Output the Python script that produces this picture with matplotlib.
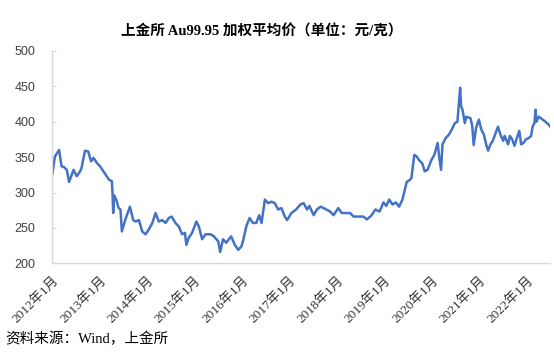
import numpy as np
import pandas as pd
import matplotlib
matplotlib.use("Agg")
import matplotlib.pyplot as plt
import matplotlib.transforms as mtransforms

# 上金所 Au99.95 加权平均价，读图估计（元/克）
dates = [
    "2012-01-04", "2012-01-23", "2012-02-24", "2012-03-14", "2012-04-01", "2012-04-23",
    "2012-05-11", "2012-06-14", "2012-07-09", "2012-08-04", "2012-08-15", "2012-09-10",
    "2012-10-05", "2012-10-27", "2012-11-14", "2012-12-10",
    "2013-01-04", "2013-01-30", "2013-02-24", "2013-03-14", "2013-04-05", "2013-04-10",
    "2013-04-15", "2013-04-22", "2013-05-08", "2013-05-27", "2013-06-10", "2013-06-21",
    "2013-07-16", "2013-08-22", "2013-09-16", "2013-10-05", "2013-10-30", "2013-11-24",
    "2013-12-20",
    "2014-01-15", "2014-02-10", "2014-03-07", "2014-04-01", "2014-04-27", "2014-05-23",
    "2014-06-17", "2014-07-09", "2014-08-07", "2014-09-02", "2014-09-27", "2014-10-19",
    "2014-10-30", "2014-11-17", "2014-12-13",
    "2015-01-15", "2015-02-03", "2015-02-28", "2015-03-26", "2015-05-05", "2015-05-30",
    "2015-07-02", "2015-07-17", "2015-08-08", "2015-09-02", "2015-10-09", "2015-11-07",
    "2015-12-03", "2015-12-28",
    "2016-01-12", "2016-02-03", "2016-02-28", "2016-03-25", "2016-04-20", "2016-05-12",
    "2016-05-30", "2016-06-25", "2016-07-20", "2016-08-15", "2016-09-09", "2016-10-05",
    "2016-10-30", "2016-11-25", "2016-12-13",
    "2017-01-15", "2017-02-20", "2017-03-25", "2017-04-19", "2017-05-15", "2017-06-02",
    "2017-07-05", "2017-07-30", "2017-08-28", "2017-09-30", "2017-11-09", "2017-12-05",
    "2018-01-11", "2018-02-06", "2018-03-18", "2018-04-12", "2018-05-08", "2018-06-17",
    "2018-07-23", "2018-08-18", "2018-09-20", "2018-10-23", "2018-11-24", "2018-12-24",
    "2019-01-15", "2019-02-06", "2019-03-04", "2019-03-29", "2019-04-23", "2019-05-19",
    "2019-06-06", "2019-06-21", "2019-07-09", "2019-07-27", "2019-08-18", "2019-09-05",
    "2019-09-23", "2019-10-19", "2019-11-06", "2019-11-28", "2019-12-28",
    "2020-01-19", "2020-02-14", "2020-02-25", "2020-03-11", "2020-03-22", "2020-04-16",
    "2020-05-12", "2020-06-07", "2020-06-25", "2020-07-15", "2020-08-05", "2020-08-12",
    "2020-08-23", "2020-09-10", "2020-09-21", "2020-10-23", "2020-11-06", "2020-11-17",
    "2020-12-05", "2020-12-27",
    "2021-01-15", "2021-02-03", "2021-02-21", "2021-03-08", "2021-03-26", "2021-04-13",
    "2021-05-05", "2021-05-23", "2021-06-10", "2021-07-02", "2021-07-13", "2021-08-09",
    "2021-08-22", "2021-09-09", "2021-09-27", "2021-10-15", "2021-11-03", "2021-11-17",
    "2021-12-05", "2021-12-23",
    "2022-01-15", "2022-02-02", "2022-02-13", "2022-02-27", "2022-03-08", "2022-03-15",
    "2022-04-02", "2022-05-01", "2022-05-23", "2022-06-17", "2022-06-28",
]
prices = [
    327, 351, 360, 337, 336, 332,
    315, 332, 323, 330, 335, 359,
    358, 344, 349, 342,
    337, 330, 323, 318, 316, 299,
    271, 296, 290, 278, 276, 245,
    261, 280, 261, 259, 261, 245,
    241,
    248, 257, 271, 259, 261, 257,
    264, 266, 257, 252, 241, 243,
    226, 236, 243,
    259, 252, 234, 241, 241, 238,
    231, 216, 234, 229, 238, 226,
    219, 224,
    234, 252, 264, 257, 257, 268,
    257, 290, 285, 287, 285, 276,
    278, 266, 261,
    271, 276, 283, 285, 276, 281,
    268, 276, 280, 277, 273, 268,
    278, 271, 271, 271, 266, 266,
    266, 262, 267, 276, 273, 286,
    281, 290, 283, 286, 280, 290,
    304, 315, 317, 320, 353, 351,
    346, 341, 330, 332, 346,
    353, 370, 351, 332, 368, 377,
    382, 391, 398, 400, 448, 422,
    417, 398, 407, 405, 394, 367,
    391, 403,
    389, 382, 368, 359, 368, 373,
    384, 393, 382, 373, 380, 368,
    380, 375, 366, 377, 387, 368,
    370, 375,
    377, 380, 393, 398, 417, 400,
    407, 403, 400, 396, 393,
]
years = list(range(2012, 2023))
tick_labels = [f"{y}年1月" for y in years]
y_ticks = [200, 250, 300, 350, 400, 450, 500]

title = "上金所 Au99.95 加权平均价（单位：元/克）"
source = "资料来源：Wind，上金所"

serif_cjk = ["Liberation Serif", "Noto Sans CJK SC"]

fig = plt.figure(figsize=(5.54, 3.56), dpi=100)
ax = fig.add_axes([0.094, 0.2604, 0.899, 0.5966])

x = pd.to_datetime(dates)
ax.plot(x, prices, color="#4472C4", linewidth=1.8, solid_joinstyle="round")

ax.set_ylim(200, 500)
ax.set_yticks(y_ticks)
ax.set_xlim(pd.Timestamp("2012-01-01"), pd.Timestamp("2022-06-28"))
ax.set_xticks(pd.to_datetime([f"{y}-01-01" for y in years]))
ax.set_xticklabels(tick_labels, rotation=45, ha="right", rotation_mode="anchor",
                   family=serif_cjk, fontsize=9.5, color="#333333")

# 标签整体左移一点
shift = mtransforms.ScaledTranslation(-4 / 72, 0, fig.dpi_scale_trans)
for lab in ax.get_xticklabels():
    lab.set_transform(lab.get_transform() + shift)

for lab in ax.get_yticklabels():
    lab.set_family(["Liberation Sans"])
    lab.set_fontsize(9)
    lab.set_color("#404040")

ax.tick_params(axis="y", direction="in", length=3, color="#D9D9D9", pad=12)
ax.tick_params(axis="x", length=0, pad=8)

for side in ["top", "right"]:
    ax.spines[side].set_visible(False)
for side in ["left", "bottom"]:
    ax.spines[side].set_color("#D9D9D9")
    ax.spines[side].set_linewidth(1.0)

fig.text(0.473, 0.912, title, ha="center", va="center", fontsize=10.5,
         fontweight="bold", family=serif_cjk, color="#000000")
fig.text(0.009, 0.047, source, ha="left", va="center", fontsize=10.5,
         family=serif_cjk, color="#000000")

fig.savefig("out.png", dpi=100)
